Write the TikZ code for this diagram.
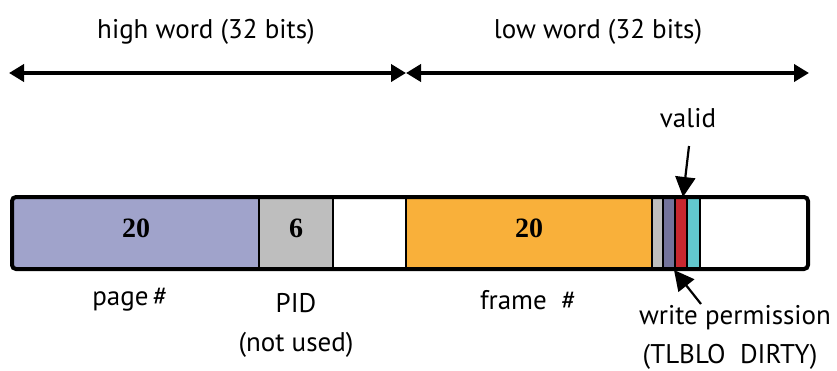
\documentclass[tikz,border=0pt]{standalone}
\usepackage{fontspec}
\setmainfont{PT Sans}
\newfontfamily\numfont{Liberation Serif}
\usetikzlibrary{arrows.meta}
\definecolor{pagec}{RGB}{160,163,203}
\definecolor{pidc}{RGB}{190,190,190}
\definecolor{framec}{RGB}{249,176,58}
\definecolor{bgray}{RGB}{190,190,190}
\definecolor{bpurp}{RGB}{115,115,155}
\definecolor{bred}{RGB}{200,40,48}
\definecolor{bcyan}{RGB}{98,200,206}
\tikzset{
  lbl/.style={font=\fontsize{27}{30}\selectfont, inner sep=0pt, align=center},
  num/.style={font=\numfont\bfseries\fontsize{28}{30}\selectfont, inner sep=0pt},
  span/.style={line width=4pt, {Triangle[length=15pt,width=17pt]}-{Triangle[length=15pt,width=17pt]}},
  ptr/.style={line width=2.2pt, -{Triangle[length=20pt,width=20pt]}}
}
\begin{document}
\begin{tikzpicture}[x=1pt,y=-1pt]
\useasboundingbox (0,0) rectangle (837,370);
% fields
\fill[pagec] (12,197) rectangle (259,269);
\fill[pidc] (259,197) rectangle (333,269);
\fill[framec] (406,197) rectangle (652,269);
\fill[bgray] (652,197) rectangle (663,269);
\fill[bpurp] (663,197) rectangle (675,269);
\fill[bred] (675,197) rectangle (687,269);
\fill[bcyan] (687,197) rectangle (700,269);
\foreach \xx in {259,333,406,652,663,675,687,700}
  \draw[line width=1.8pt] (\xx,197) -- (\xx,269);
\node[draw, line width=4pt, rounded corners=4pt, minimum width=796pt, minimum height=72pt, inner sep=0pt] (word) at (410,233) {};
\node[num] (n1) at (136,228) {20};
\node[num] (n2) at (296,228) {6};
\node[num] (n3) at (529,228) {20};
% span arrows
\coordinate (L) at (9,73);
\coordinate (M) at (406,73);
\coordinate (R) at (809,73);
\draw[span] (L) -- (M);
\draw[span] (M) -- (R);
\node[lbl] (hw) at (206,32) {high word (32 bits)};
\node[lbl] (lw) at (598,32) {low word (32 bits)};
% labels
\node[lbl] (page) at (130,300) {page\,\#};
\node[lbl] (pid) at (296,303) {PID};
\node[lbl] (nu) at (296,345) {(not used)};
\node[lbl] (frame) at (528,300) {frame~~\#};
\node[lbl] (valid) at (688,118) {valid};
\node[lbl] (wp) at (735,318) {write permission};
\node[lbl] (tl) at (730,357) {(TLBLO~~DIRTY)};
\coordinate (vs) at (689,146);
\coordinate (vt) at (683,197);
\draw[ptr] (vs) -- (vt);
\coordinate (ws) at (701,304);
\coordinate (wt) at (674,270);
\draw[ptr] (ws) -- (wt);
\end{tikzpicture}
\end{document}
